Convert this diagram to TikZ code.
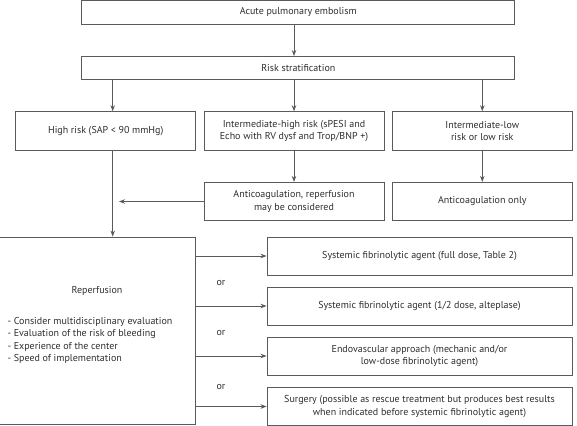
\documentclass[tikz,border=0pt]{standalone}
\usepackage{fontspec}
\setmainfont{PT Sans}
\usetikzlibrary{shapes,arrows,arrows.meta,positioning,calc}
\definecolor{linegray}{HTML}{5A5A5A}
\definecolor{txtgray}{HTML}{2E2E2E}

\begin{document}
\begin{tikzpicture}[x=1pt, y=-1pt, >={Stealth[length=6pt,width=4.5pt]},
    every node/.style={text=txtgray, font=\fontsize{10}{12.5}\selectfont},
    box/.style={draw=linegray, rectangle, line width=0.9pt, inner sep=0pt, align=center},
    wide/.style={box, minimum width=433pt},
    col/.style={box, minimum width=180pt, minimum height=38.3pt},
    opt/.style={box, minimum width=305pt, minimum height=38pt},
    link/.style={->, draw=linegray, line width=0.8pt}]
            \clip (0,0) rectangle (577,425);
            \node[wide, minimum height=23.2pt] (ape) at (298.3,12.4) {Acute pulmonary embolism};
            \node[wide, minimum height=22.8pt] (risk) at (298.3,67.9) {Risk stratification};
            \node[col] (high) at (105.7,130.85) {High risk (SAP < 90 mmHg)};
            \node[col] (mid) at (294,130.85) {Intermediate-high risk (sPESI and\\Echo with RV dysf and Trop/BNP +)};
            \node[col] (low) at (482.3,130.85) {Intermediate-low\\risk or low risk};
            \node[col] (anti) at (294,201.5) {Anticoagulation, reperfusion\\may be considered};
            \node[col] (only) at (482.3,201.5) {Anticoagulation only};

            \node[box, minimum width=200pt, minimum height=187pt] (reperf) at (95,330.5) {};
            \node (reptitle) at (97,291) {Reperfusion};
            \node[anchor=west, align=left] (replist) at (4,340.5) {- Consider multidisciplinary evaluation\\- Evaluation of the risk of bleeding\\- Experience of the center\\- Speed of implementation};

            \node[opt] (full) at (419.5,256) {Systemic fibrinolytic agent (full dose, Table 2)};
            \node[opt] (half) at (419.5,306) {Systemic fibrinolytic agent (1/2 dose, alteplase)};
            \node[opt] (endo) at (419.5,356) {Endovascular approach (mechanic and/or\\low-dose fibrinolytic agent)};
            \node[opt] (surg) at (419.5,406.5) {Surgery (possible as rescue treatment but produces best results\\when indicated before systemic fibrinolytic agent)};
            \node (or1) at (221,283) {or};
            \node (or2) at (221,333) {or};
            \node (or3) at (221,387) {or};

            \coordinate (leftcol) at (112.7,0);
            \coordinate (join) at (119,201.5);
            \draw[link] (ape.south -| mid.north) -- (risk.north -| mid.north);
            \draw[link] (risk.south -| leftcol) -- (high.north -| leftcol);
            \draw[link] (risk.south -| mid.north) -- (mid.north);
            \draw[link] (risk.south -| low.north) -- (low.north);
            \draw[link] (mid) -- (anti);
            \draw[link] (low) -- (only);
            \draw[link] (high.south -| leftcol) -- (reperf.north -| leftcol);
            \draw[link] (anti.west) -- (join);
            \foreach \n in {full,half,endo,surg}
                \draw[link] (reperf.east |- \n.west) -- (\n.west);
        \end{tikzpicture}
\end{document}
